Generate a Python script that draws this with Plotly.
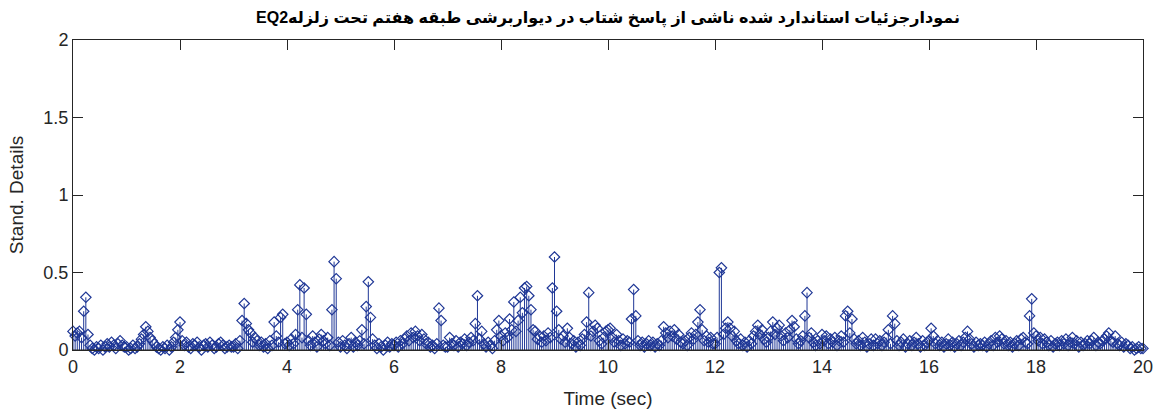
import numpy as np
import plotly.graph_objects as go

# Sampling grid of the detail signal (seconds)
t_start = 0.0
dt = 0.04

# Standardized detail values, one list per second (25 samples each)
sec00 = [0.12,0.09,0.11,0.12,0.08,0.25,0.34,0.10,0.03,0.01,0.00,0.02,0.01,0.03,0.00,0.02,0.04,0.02,0.05,0.03,0.01,0.04,0.06,0.03,0.02]
sec01 = [0.02,0.00,0.01,0.03,0.01,0.02,0.04,0.07,0.10,0.15,0.12,0.08,0.06,0.04,0.02,0.01,0.00,0.02,0.01,0.03,0.00,0.02,0.05,0.08,0.13]
sec02 = [0.18,0.06,0.03,0.05,0.02,0.01,0.04,0.03,0.05,0.02,0.00,0.03,0.04,0.02,0.05,0.03,0.01,0.02,0.04,0.05,0.03,0.01,0.02,0.03,0.02]
sec03 = [0.02,0.04,0.01,0.06,0.19,0.30,0.17,0.13,0.11,0.05,0.08,0.06,0.03,0.05,0.02,0.04,0.01,0.06,0.03,0.18,0.09,0.05,0.21,0.23,0.04]
sec04 = [0.05,0.03,0.07,0.04,0.10,0.26,0.42,0.08,0.40,0.23,0.06,0.03,0.09,0.05,0.02,0.07,0.10,0.06,0.04,0.08,0.03,0.26,0.57,0.46,0.05]
sec05 = [0.02,0.06,0.03,0.01,0.04,0.08,0.02,0.05,0.03,0.06,0.13,0.04,0.28,0.44,0.21,0.07,0.03,0.01,0.04,0.02,0.00,0.03,0.05,0.02,0.04]
sec06 = [0.03,0.05,0.02,0.06,0.04,0.07,0.09,0.06,0.11,0.08,0.12,0.09,0.06,0.10,0.07,0.04,0.05,0.02,0.03,0.01,0.04,0.27,0.19,0.03,0.02]
sec07 = [0.02,0.08,0.04,0.03,0.06,0.02,0.05,0.04,0.07,0.03,0.05,0.08,0.06,0.17,0.35,0.07,0.12,0.04,0.02,0.05,0.03,0.01,0.06,0.13,0.19]
sec08 = [0.09,0.06,0.11,0.08,0.20,0.13,0.31,0.12,0.19,0.34,0.24,0.40,0.41,0.35,0.26,0.13,0.12,0.07,0.09,0.05,0.09,0.06,0.11,0.08,0.40]
sec09 = [0.60,0.25,0.13,0.07,0.09,0.05,0.14,0.08,0.04,0.06,0.02,0.05,0.03,0.07,0.10,0.18,0.37,0.09,0.12,0.16,0.14,0.06,0.04,0.08,0.12]
sec10 = [0.13,0.14,0.08,0.05,0.10,0.06,0.03,0.07,0.04,0.06,0.05,0.20,0.39,0.22,0.06,0.03,0.05,0.02,0.04,0.06,0.03,0.05,0.02,0.04,0.03]
sec11 = [0.06,0.15,0.11,0.08,0.12,0.09,0.13,0.07,0.10,0.05,0.04,0.06,0.03,0.08,0.11,0.07,0.10,0.18,0.26,0.13,0.06,0.09,0.05,0.08,0.04]
sec12 = [0.04,0.08,0.50,0.53,0.10,0.14,0.18,0.14,0.09,0.12,0.06,0.04,0.07,0.03,0.05,0.02,0.06,0.04,0.09,0.12,0.16,0.10,0.13,0.07,0.05]
sec13 = [0.08,0.12,0.18,0.10,0.14,0.16,0.09,0.06,0.11,0.08,0.13,0.19,0.15,0.07,0.04,0.06,0.09,0.22,0.37,0.08,0.11,0.05,0.03,0.06,0.04]
sec14 = [0.10,0.06,0.09,0.04,0.07,0.05,0.08,0.03,0.06,0.09,0.05,0.22,0.25,0.11,0.20,0.07,0.04,0.06,0.03,0.08,0.05,0.02,0.04,0.07,0.03]
sec15 = [0.07,0.04,0.06,0.03,0.05,0.08,0.13,0.04,0.22,0.17,0.06,0.03,0.05,0.07,0.02,0.04,0.06,0.03,0.05,0.08,0.04,0.02,0.06,0.03,0.05]
sec16 = [0.06,0.14,0.09,0.04,0.06,0.03,0.05,0.02,0.04,0.07,0.03,0.05,0.02,0.04,0.06,0.03,0.05,0.08,0.12,0.07,0.04,0.02,0.05,0.03,0.04]
sec17 = [0.03,0.05,0.02,0.04,0.06,0.03,0.08,0.05,0.09,0.07,0.04,0.06,0.03,0.05,0.02,0.04,0.06,0.03,0.07,0.08,0.05,0.04,0.22,0.33,0.11]
sec18 = [0.09,0.06,0.08,0.04,0.07,0.05,0.03,0.06,0.02,0.04,0.05,0.03,0.06,0.04,0.07,0.03,0.05,0.08,0.04,0.06,0.02,0.05,0.03,0.04,0.06]
sec19 = [0.04,0.06,0.08,0.03,0.05,0.04,0.06,0.07,0.09,0.11,0.06,0.05,0.09,0.04,0.03,0.05,0.02,0.04,0.03,0.01,0.02,0.00,0.01,0.02,0.01]
sec20 = [0.01]

x_ticks = [0, 2, 4, 6, 8, 10, 12, 14, 16, 18, 20]
y_ticks = [0, 0.5, 1, 1.5, 2]
y_tick_labels = ["0", "0.5", "1", "1.5", "2"]

title_text = "نمودارجزئیات استاندارد شده ناشی از پاسخ شتاب در دیواربرشی طبقه هفتم تحت زلزلهEQ2"
x_title = "Time (sec)"
y_title = "Stand. Details"

values = (sec00 + sec01 + sec02 + sec03 + sec04 + sec05 + sec06 + sec07 + sec08 + sec09
          + sec10 + sec11 + sec12 + sec13 + sec14 + sec15 + sec16 + sec17 + sec18 + sec19 + sec20)
times = [round(t_start + i * dt, 4) for i in range(len(values))]

stem_color = "#1f3796"
axis_color = "#262626"

# stems
sx, sy = [], []
for t, v in zip(times, values):
    sx += [t, t, None]
    sy += [0, v, None]

fig = go.Figure()
fig.add_trace(go.Scatter(x=sx, y=sy, mode="lines",
                         line=dict(color=stem_color, width=1),
                         hoverinfo="skip", showlegend=False))
fig.add_trace(go.Scatter(x=times, y=values, mode="markers",
                         marker=dict(symbol="diamond-open", size=8,
                                     color=stem_color, line=dict(width=1.2, color=stem_color)),
                         cliponaxis=False, showlegend=False))
# baseline
fig.add_trace(go.Scatter(x=[0, 20], y=[0, 0], mode="lines",
                         line=dict(color=axis_color, width=1),
                         hoverinfo="skip", showlegend=False))

font_family = "Liberation Sans, Arial, DejaVu Sans, sans-serif"
fig.update_layout(
    width=1157, height=418,
    margin=dict(l=73, r=14, t=40, b=68),
    paper_bgcolor="white", plot_bgcolor="white",
    font=dict(family=font_family, color=axis_color, size=18),
    title=dict(text="<b>\u202b" + title_text + "\u202c</b>",
               x=(73 + 1143) / 2 / 1157, xanchor="center",
               y=1 - 17 / 418, yanchor="middle",
               font=dict(size=16, color="black", family=font_family)),
    xaxis=dict(range=[0, 20], tickvals=x_ticks, ticktext=[str(v) for v in x_ticks],
               automargin=False,
               showgrid=False, zeroline=False, showline=True, linecolor=axis_color,
               linewidth=1, mirror="ticks", ticks="inside", ticklen=10,
               tickcolor=axis_color, tickfont=dict(size=18),
               title=dict(text=x_title, font=dict(size=19), standoff=16)),
    yaxis=dict(range=[0, 2], tickvals=y_ticks, ticktext=y_tick_labels,
               automargin=False,
               showgrid=False, zeroline=False, showline=True, linecolor=axis_color,
               linewidth=1, mirror="ticks", ticks="inside", ticklen=10,
               tickcolor=axis_color, tickfont=dict(size=18),
               title=dict(text=y_title, font=dict(size=19), standoff=14)),
)

fig.write_html("out.html")
